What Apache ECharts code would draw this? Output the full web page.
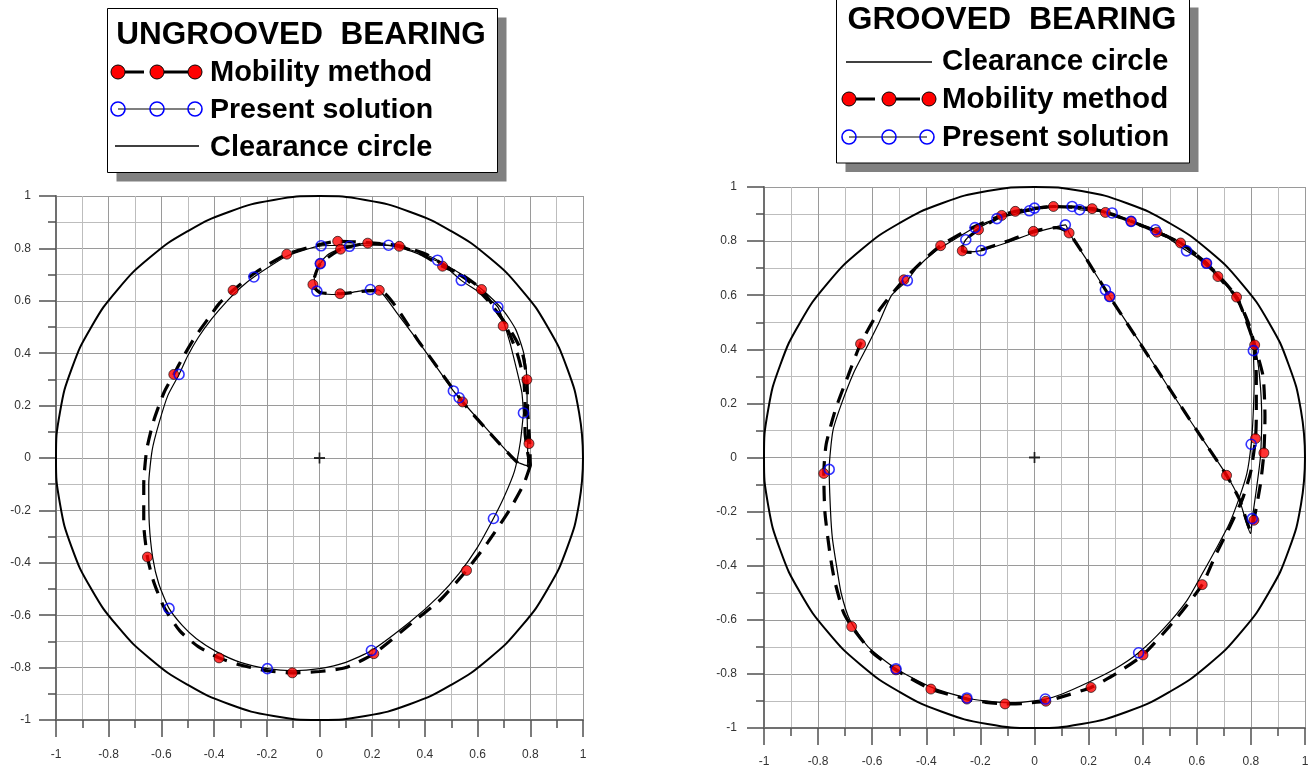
<!DOCTYPE html>
<html>
<head>
<meta charset="utf-8">
<title>Journal centre orbits</title>
<script src="https://cdn.jsdelivr.net/npm/echarts@6/dist/echarts.min.js"></script>
<style>
  html, body { margin: 0; padding: 0; background: #fff; }
  #chart { width: 1314px; height: 768px; }
</style>
</head>
<body>
<div id="chart"></div>
<script>
// clearance circle (radius 1), points every 10 degrees
const clearanceCircle = [
  [1,0],[0.985,0.174],[0.94,0.342],[0.866,0.5],[0.766,0.643],[0.643,0.766],[0.5,0.866],[0.342,0.94],[0.174,0.985],
  [0,1],[-0.174,0.985],[-0.342,0.94],[-0.5,0.866],[-0.643,0.766],[-0.766,0.643],[-0.866,0.5],[-0.94,0.342],[-0.985,0.174],
  [-1,0],[-0.985,-0.174],[-0.94,-0.342],[-0.866,-0.5],[-0.766,-0.643],[-0.643,-0.766],[-0.5,-0.866],[-0.342,-0.94],[-0.174,-0.985],
  [0,-1],[0.174,-0.985],[0.342,-0.94],[0.5,-0.866],[0.643,-0.766],[0.766,-0.643],[0.866,-0.5],[0.94,-0.342],[0.985,-0.174],[1,0]
];
const bearingCentre = [[0, 0]];

// ---------- UNGROOVED BEARING ----------
const ungroovedPresentLoopA = [
  [0.08,0.8],[0.03,0.775],[0.003,0.742],[-0.02,0.69],[-0.01,0.645],[0.03,0.625],[0.08,0.624],[0.14,0.635],[0.2,0.643],
  [0.227,0.64],[0.3,0.545],[0.4,0.41],[0.508,0.256],[0.53,0.23],[0.6,0.15],[0.68,0.06],[0.751,-0.015],[0.789,-0.03],
  [0.79,0.05],[0.788,0.17],[0.787,0.3],[0.775,0.4],[0.745,0.49],[0.7,0.56],[0.62,0.64],[0.54,0.7],[0.45,0.75],
  [0.3,0.805],[0.18,0.82],[0.08,0.8]
];
const ungroovedPresentLoopB = [
  [0.774,0.172],[0.762,0.06],[0.74,-0.05],[0.7,-0.15],[0.66,-0.231],[0.6,-0.34],[0.53,-0.44],[0.45,-0.53],[0.35,-0.62],
  [0.197,-0.735],[0.1,-0.78],[0,-0.804],[-0.1,-0.812],[-0.198,-0.804],[-0.3,-0.78],[-0.39,-0.74],[-0.467,-0.69],
  [-0.52,-0.64],[-0.571,-0.574],[-0.61,-0.48],[-0.633,-0.38],[-0.646,-0.25],[-0.648,-0.1],[-0.635,0.03],[-0.61,0.13],
  [-0.575,0.24],[-0.533,0.319],[-0.5,0.39],[-0.46,0.46],[-0.41,0.53],[-0.35,0.6],[-0.3,0.65],[-0.249,0.691],
  [-0.124,0.77],[0.006,0.81],[0.114,0.812],[0.262,0.812],[0.36,0.79],[0.448,0.755],[0.538,0.678],[0.61,0.63],
  [0.677,0.576],[0.72,0.45],[0.75,0.33],[0.768,0.25],[0.774,0.172]
];
const ungroovedMobilityLoopA = [
  [0.08,0.797],[0.003,0.742],[-0.025,0.662],[0,0.632],[0.078,0.627],[0.16,0.636],[0.227,0.64],[0.38,0.44],[0.543,0.214],
  [0.66,0.08],[0.76,-0.025],[0.8,-0.03],[0.798,0.055],[0.79,0.18],[0.787,0.3],[0.77,0.4],[0.735,0.47],[0.68,0.55],
  [0.615,0.643],[0.54,0.7],[0.467,0.732],[0.38,0.78],[0.303,0.808],[0.183,0.82],[0.08,0.797]
];
const ungroovedMobilityLoopB = [
  [0.8,-0.03],[0.775,-0.1],[0.72,-0.2],[0.64,-0.32],[0.558,-0.429],[0.46,-0.54],[0.35,-0.63],[0.206,-0.747],[0.1,-0.8],
  [0,-0.815],[-0.103,-0.82],[-0.2,-0.812],[-0.3,-0.79],[-0.381,-0.763],[-0.46,-0.72],[-0.53,-0.66],[-0.59,-0.57],
  [-0.63,-0.47],[-0.653,-0.378],[-0.667,-0.25],[-0.667,-0.1],[-0.656,0.03],[-0.63,0.14],[-0.59,0.25],[-0.553,0.319],
  [-0.515,0.39],[-0.47,0.465],[-0.42,0.535],[-0.38,0.59],[-0.328,0.64],[-0.24,0.71],[-0.124,0.778],[0,0.815],
  [0.069,0.827],[0.183,0.822],[0.303,0.81],[0.4,0.78],[0.467,0.74],[0.56,0.68],[0.64,0.6],[0.7,0.52],[0.75,0.4],
  [0.775,0.3],[0.78,0.2],[0.78,0.1],[0.79,0.02],[0.8,-0.03]
];
const ungroovedMobilityMarks = [
  [0.069,0.827],[0.08,0.797],[0.183,0.82],[0.303,0.808],[0.467,0.732],[0.615,0.643],[0.697,0.504],[0.787,0.299],
  [0.795,0.055],[0.543,0.214],[0.227,0.64],[0.078,0.627],[-0.025,0.662],[0.003,0.742],[-0.124,0.778],[-0.328,0.64],
  [-0.553,0.319],[-0.653,-0.378],[-0.381,-0.763],[-0.103,-0.82],[0.206,-0.747],[0.558,-0.429]
];
const ungroovedPresentMarks = [
  [0.006,0.81],[0.114,0.808],[0.262,0.812],[0.448,0.755],[0.538,0.678],[0.677,0.576],[0.774,0.172],[0.508,0.256],
  [0.53,0.23],[0.193,0.643],[-0.01,0.637],[0.003,0.742],[-0.249,0.691],[-0.533,0.319],[-0.571,-0.574],[-0.198,-0.804],
  [0.197,-0.735],[0.66,-0.231]
];

// ---------- GROOVED BEARING ----------
const groovedPresentLoopA = [
  [-0.139,0.883],[-0.207,0.848],[-0.254,0.805],[-0.268,0.775],[-0.25,0.76],[-0.197,0.765],[-0.1,0.795],[-0.004,0.83],
  [0.07,0.85],[0.114,0.86],[0.128,0.83],[0.2,0.72],[0.262,0.62],[0.278,0.595],[0.4,0.41],[0.52,0.22],[0.62,0.07],
  [0.709,-0.063],[0.756,-0.152],[0.799,-0.281],[0.805,-0.226],[0.82,-0.12],[0.835,0],[0.84,0.15],[0.832,0.3],
  [0.814,0.416],[0.78,0.52],[0.74,0.6],[0.678,0.669],[0.6,0.74],[0.54,0.793],[0.453,0.838],[0.357,0.873],[0.262,0.906],
  [0.15,0.925],[0.07,0.928],[-0.019,0.912],[-0.071,0.908],[-0.139,0.883]
];
const groovedPresentLoopB = [
  [0.809,0.395],[0.812,0.28],[0.808,0.15],[0.801,0.049],[0.785,-0.06],[0.756,-0.152],[0.72,-0.245],[0.675,-0.331],
  [0.62,-0.43],[0.564,-0.528],[0.48,-0.63],[0.385,-0.722],[0.3,-0.78],[0.2,-0.831],[0.1,-0.875],[0.04,-0.893],
  [-0.05,-0.905],[-0.109,-0.906],[-0.18,-0.9],[-0.25,-0.889],[-0.38,-0.85],[-0.512,-0.781],[-0.615,-0.7],[-0.683,-0.6],
  [-0.715,-0.5],[-0.732,-0.4],[-0.747,-0.3],[-0.754,-0.2],[-0.759,-0.044],[-0.745,0.1],[-0.713,0.2],[-0.67,0.31],
  [-0.624,0.4],[-0.574,0.5],[-0.528,0.6],[-0.47,0.654],[-0.436,0.7],[-0.37,0.76],[-0.306,0.8],[-0.22,0.85],[-0.139,0.883],
  [-0.019,0.912],[0,0.922],[0.139,0.928],[0.167,0.916],[0.287,0.904],[0.357,0.873],[0.447,0.842],[0.562,0.764],
  [0.636,0.718],[0.7,0.65],[0.76,0.56],[0.795,0.47],[0.809,0.395]
];
const groovedMobilityLoopA = [
  [-0.121,0.895],[-0.207,0.842],[-0.26,0.8],[-0.267,0.764],[-0.23,0.758],[-0.19,0.77],[-0.1,0.8],[-0.004,0.836],
  [0.08,0.85],[0.128,0.83],[0.278,0.595],[0.45,0.33],[0.6,0.1],[0.71,-0.066],[0.76,-0.16],[0.8,-0.27],[0.811,-0.232],
  [0.835,-0.1],[0.848,0.017],[0.852,0.15],[0.845,0.3],[0.814,0.416],[0.79,0.5],[0.747,0.593],[0.678,0.669],[0.636,0.718],
  [0.54,0.793],[0.453,0.833],[0.357,0.873],[0.262,0.906],[0.213,0.92],[0.07,0.928],[-0.071,0.91],[-0.121,0.895]
];
const groovedMobilityLoopB = [
  [0.814,0.416],[0.82,0.3],[0.82,0.15],[0.817,0.07],[0.8,-0.05],[0.77,-0.15],[0.72,-0.26],[0.67,-0.36],[0.62,-0.47],
  [0.52,-0.6],[0.401,-0.73],[0.3,-0.8],[0.209,-0.85],[0.1,-0.885],[0.042,-0.901],[-0.05,-0.91],[-0.109,-0.911],
  [-0.18,-0.905],[-0.25,-0.893],[-0.383,-0.856],[-0.512,-0.785],[-0.6,-0.72],[-0.676,-0.625],[-0.707,-0.57],
  [-0.74,-0.45],[-0.757,-0.35],[-0.775,-0.2],[-0.779,-0.059],[-0.77,0.05],[-0.735,0.18],[-0.69,0.3],[-0.643,0.42],
  [-0.57,0.55],[-0.483,0.657],[-0.41,0.73],[-0.347,0.783],[-0.25,0.84],[-0.121,0.895],[0,0.92],[0.07,0.928],
  [0.213,0.92],[0.357,0.873],[0.453,0.833],[0.54,0.793],[0.636,0.718],[0.747,0.593],[0.814,0.416]
];
const groovedMobilityMarks = [
  [-0.779,-0.059],[-0.643,0.42],[-0.483,0.657],[-0.347,0.783],[-0.267,0.764],[-0.207,0.842],[-0.121,0.895],[-0.071,0.91],
  [0.07,0.928],[0.213,0.92],[0.262,0.906],[0.357,0.873],[0.453,0.833],[0.54,0.793],[0.636,0.718],[0.678,0.669],
  [0.747,0.593],[0.814,0.416],[0.817,0.07],[0.848,0.017],[-0.004,0.836],[0.128,0.83],[0.278,0.595],[0.71,-0.066],
  [0.811,-0.232],[0.62,-0.47],[0.401,-0.73],[0.209,-0.85],[0.042,-0.901],[-0.109,-0.911],[-0.25,-0.893],[-0.383,-0.856],
  [-0.512,-0.785],[-0.676,-0.625]
];
const groovedPresentMarks = [
  [-0.759,-0.044],[-0.47,0.654],[-0.254,0.805],[-0.197,0.765],[-0.22,0.85],[-0.139,0.883],[-0.019,0.912],[0,0.922],
  [0.139,0.928],[0.167,0.916],[0.287,0.904],[0.357,0.873],[0.447,0.842],[0.562,0.764],[0.636,0.718],[0.809,0.395],
  [0.801,0.049],[0.114,0.86],[0.262,0.62],[0.278,0.595],[0.805,-0.226],[0.385,-0.722],[0.04,-0.893],[-0.25,-0.889],
  [-0.512,-0.781]
];

const FONT = "'Liberation Sans', Arial, sans-serif";

function makeAxis(idx, labelMargin) {
  return {
    gridIndex: idx,
    type: 'value',
    min: -1, max: 1, interval: 0.2,
    axisLine: { onZero: false, lineStyle: { color: '#707070', width: 2 } },
    axisTick: { inside: false, length: 17, lineStyle: { color: '#505050', width: 1.5 } },
    minorTick: { show: true, splitNumber: 2, length: 8, lineStyle: { color: '#505050', width: 1.5 } },
    splitLine: { show: true, lineStyle: { color: '#9a9a9a', width: 1 } },
    minorSplitLine: { show: true, lineStyle: { color: '#bdbdbd', width: 1 } },
    axisLabel: { margin: labelMargin, color: '#333', fontSize: 12, fontFamily: FONT }
  };
}

function pathSeries(idx, data, dashed) {
  return {
    type: 'line',
    xAxisIndex: idx, yAxisIndex: idx,
    data: data,
    showSymbol: false,
    smooth: 0.2,
    silent: true,
    lineStyle: dashed
      ? { color: '#000', width: 3.2, type: [15, 10], cap: 'butt' }
      : { color: '#000', width: 1.2 },
    z: dashed ? 3 : 4
  };
}

function plotSeries(idx, mobA, mobB, presA, presB, redMarks, blueMarks) {
  return [
    {
      type: 'line', xAxisIndex: idx, yAxisIndex: idx, data: clearanceCircle,
      showSymbol: false, smooth: true, silent: true,
      lineStyle: { color: '#000', width: 2 }, z: 2
    },
    pathSeries(idx, mobA, true),
    pathSeries(idx, mobB, true),
    pathSeries(idx, presA, false),
    pathSeries(idx, presB, false),
    {
      type: 'scatter', xAxisIndex: idx, yAxisIndex: idx, data: redMarks,
      symbol: 'circle', symbolSize: 10, silent: true,
      itemStyle: { color: '#ff0000', borderColor: '#000', borderWidth: 0.8 }, z: 5
    },
    {
      type: 'scatter', xAxisIndex: idx, yAxisIndex: idx, data: blueMarks,
      symbol: 'circle', symbolSize: 10, silent: true,
      itemStyle: { color: 'transparent', borderColor: '#0000ff', borderWidth: 1.6 }, z: 6
    },
    {
      type: 'scatter', xAxisIndex: idx, yAxisIndex: idx, data: bearingCentre,
      symbol: 'path://M4.2,0H5.8V4.2H10V5.8H5.8V10H4.2V5.8H0V4.2H4.2Z', symbolSize: 11, silent: true,
      itemStyle: { color: '#000' }, z: 6
    }
  ];
}

// legend boxes drawn with graphic elements
function txt(x, y, text, size, align) {
  return {
    type: 'text', x: x, y: y, silent: true,
    style: { text: text, fill: '#000', font: 'bold ' + size + 'px ' + FONT, align: align || 'left', verticalAlign: 'middle' }
  };
}
function seg(x1, y1, x2, y2, w) {
  return { type: 'line', silent: true, shape: { x1: x1, y1: y1, x2: x2, y2: y2 }, style: { stroke: '#000', lineWidth: w } };
}
function redDot(x, y) {
  return { type: 'circle', silent: true, shape: { cx: x, cy: y, r: 7 }, style: { fill: '#ff0000', stroke: '#000', lineWidth: 1 } };
}
function blueRing(x, y) {
  return { type: 'circle', silent: true, shape: { cx: x, cy: y, r: 7 }, style: { fill: 'none', stroke: '#0000ff', lineWidth: 1.6 } };
}
function box(x, y, w, h) {
  return [
    { type: 'rect', silent: true, shape: { x: x + 9, y: y + 9, width: w, height: h }, style: { fill: '#808080' } },
    { type: 'rect', silent: true, shape: { x: x, y: y, width: w, height: h }, style: { fill: '#fff', stroke: '#000', lineWidth: 1 } }
  ];
}

const graphics = [].concat(
  box(107.5, 8.5, 390, 164),
  [
    txt(301, 35, 'UNGROOVED  BEARING', 31.5, 'center'),
    seg(125, 72, 144, 72, 3), seg(164, 72, 188, 72, 3),
    redDot(118, 72), redDot(157, 72), redDot(195, 72),
    txt(210, 73, 'Mobility method', 29),
    seg(118, 109, 195, 109, 1.2),
    blueRing(118, 109), blueRing(157, 109), blueRing(195, 109),
    txt(210, 110, 'Present solution', 28.5),
    seg(115, 146, 199, 146, 1.5),
    txt(210, 148, 'Clearance circle', 29)
  ],
  box(836.5, -1.5, 353, 164.5),
  [
    txt(1012, 20, 'GROOVED  BEARING', 32, 'center'),
    seg(846, 62, 932, 62, 1.5),
    txt(942, 62, 'Clearance circle', 29.5),
    seg(856, 99, 875, 99, 3), seg(896, 99, 920, 99, 3),
    redDot(849, 99), redDot(889, 99), redDot(929, 99),
    txt(942, 100, 'Mobility method', 29.5),
    seg(849, 137, 927, 137, 1.2),
    blueRing(849, 137), blueRing(889, 137), blueRing(927, 137),
    txt(942, 138, 'Present solution', 29)
  ]
);

const chart = echarts.init(document.getElementById('chart'), null, { renderer: 'canvas' });
chart.setOption({
  animation: false,
  backgroundColor: '#fff',
  grid: [
    { left: 56, top: 196, width: 527, height: 524, outerBoundsMode: 'none' },
    { left: 764, top: 187, width: 541, height: 541, outerBoundsMode: 'none' }
  ],
  xAxis: [makeAxis(0, 29), makeAxis(1, 28)],
  yAxis: [makeAxis(0, 25), makeAxis(1, 27)],
  series: [].concat(
    plotSeries(0, ungroovedMobilityLoopA, ungroovedMobilityLoopB, ungroovedPresentLoopA, ungroovedPresentLoopB,
      ungroovedMobilityMarks, ungroovedPresentMarks),
    plotSeries(1, groovedMobilityLoopA, groovedMobilityLoopB, groovedPresentLoopA, groovedPresentLoopB,
      groovedMobilityMarks, groovedPresentMarks)
  ),
  graphic: graphics
});
</script>
</body>
</html>
